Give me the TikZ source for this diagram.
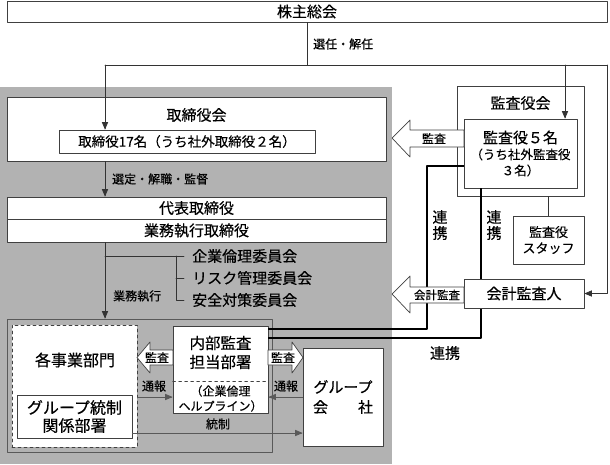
\documentclass[tikz,border=0pt]{standalone}
\usepackage{fontspec}
\setmainfont{Noto Sans CJK JP}[FakeBold=0.35]
\usetikzlibrary{arrows}

\begin{document}
\begin{tikzpicture}[line cap=round,line join=round,>=triangle 45,x=1pt,y=-1pt,
  box/.style={draw=black!75,fill=white,line width=0.8pt,inner sep=0pt,align=center},
  lbl/.style={inner sep=0pt,font=\fontsize{12}{13}\selectfont},
  big/.style={font=\fontsize{15}{17}\selectfont},
  link/.style={line width=1.8pt,line cap=butt},
  conn/.style={draw=black!80,line width=0.7pt},
  hollow/.style={draw=black!75,fill=white,line width=0.7pt}]
\useasboundingbox (0,0) rectangle (610,464);
\fill[black!30] (0,87) rectangle (392,464);

% shareholders
\node[box,big,minimum width=600pt,minimum height=21pt] (kabu) at (307,11.5) {株主総会};
\coordinate (jl) at (105,65);
\coordinate (jk) at (565,65);
\coordinate (jr) at (607,65);
\node[lbl,anchor=west] at (313,44) {選任・解任};

% board
\node[box,minimum width=379pt,minimum height=64pt] (torikai) at (196.5,129) {};
\node[big,inner sep=0pt] (torikaiT) at (196.5,115) {取締役会};
\node[box,font=\fontsize{13.5}{15}\selectfont,minimum width=256pt,minimum height=23pt] (tori17) at (187,141.5) {取締役17名（うち社外取締役２名）};
\node[box,big,minimum width=379pt,minimum height=22pt] (daihyo) at (196.5,208) {代表取締役};
\node[box,big,minimum width=379pt,minimum height=23pt] (gyomu) at (196.5,230.5) {業務執行取締役};
\node[lbl,anchor=west] at (112,179) {選定・解職・監督};

% committees
\node[big,inner sep=0pt,anchor=west] (iin1) at (192,256) {企業倫理委員会};
\node[big,inner sep=0pt,anchor=west] (iin2) at (192,278) {リスク管理委員会};
\node[big,inner sep=0pt,anchor=west] (iin3) at (192,300) {安全対策委員会};
\coordinate (br) at (176,256);
\node[lbl,anchor=west] at (113,296) {業務執行};

% auditors
\node[box,minimum width=127pt,minimum height=110pt] (kansakai) at (520.5,141) {};
\node[big,inner sep=0pt] (kansakaiT) at (520.5,103) {監査役会};
\node[box,minimum width=113pt,minimum height=69pt,font=\fontsize{12.5}{16}\selectfont] (kansa5) at (520.5,153.5) {{\fontsize{15}{16}\selectfont 監査役５名}\\（うち社外監査役\\３名）};
\node[box,minimum width=71pt,minimum height=48pt,font=\fontsize{13}{16}\selectfont] (staff) at (548.5,240) {監査役\\スタッフ};
\coordinate (k1) at (427,329);
\coordinate (k2) at (481,338);

% frame of business units
\node[draw=black!65,line width=0.8pt,minimum width=265pt,minimum height=133pt,inner sep=0pt] (frame) at (139.5,385.5) {};
\node[box,dashed,minimum width=125pt,minimum height=122pt] (jigyo) at (74.5,386) {};
\node[inner sep=0pt,font=\fontsize{16}{18}\selectfont] (jigyoT) at (75,360) {各事業部門};
\node[box,minimum width=115pt,minimum height=43pt,font=\fontsize{16}{18}\selectfont] (gkan) at (74.5,416.5) {グループ統制\\関係部署};
\node[box,minimum width=95pt,minimum height=87pt] (naibu) at (220.5,369.5) {};
\node[inner sep=0pt,align=center,font=\fontsize{15.5}{19}\selectfont] (naibuT) at (220.5,352.5) {内部監査\\担当部署};
\node[inner sep=0pt,align=center,font=\fontsize{12}{15}\selectfont] (help) at (220.5,398.5) {（企業倫理\\ヘルプライン）};
\node[box,minimum width=80pt,minimum height=98pt,font=\fontsize{15}{20}\selectfont] (gaisha) at (343,397) {グループ\\会　　社};
\coordinate (tsu) at (155,397);
\coordinate (tos) at (218,433);

% links (under the accountant box)
\draw[link] ([yshift=-12.5pt]kansa5.west) -| (k1) -- (k1 -| naibu.east);
\draw[link] (kansa5.south -| k2) -- (k2) -- (k2 -| naibu.east);

\node[box,big,minimum width=120pt,minimum height=29pt] (kaikei) at (524,293.5) {会計監査人};

% connectors
\draw[conn] (kabu.south) -- (kabu.south |- jl);
\draw[conn] (jl) -- (jr);
\draw[conn,->] (jl) -- (jl |- tori17.north);
\draw[conn,->] (jk) -- (jk |- kansa5.north);
\draw[conn,->] (jr) |- (kaikei.east);
\draw[conn,->] (jl |- torikai.south) -- (jl |- daihyo.north);
\draw[conn,->] (jl |- gyomu.south) -- (jl |- frame.north);
\draw[conn] (jl |- br) -- ([xshift=-8pt]iin1.west);
\draw[conn] (br) -- (br |- iin3.west) -- ([xshift=-8pt]iin3.west);
\draw[conn] (br |- iin2.west) -- ([xshift=-8pt]iin2.west);
\draw[conn] (staff.north) -- (staff.north |- kansakai.south);
\draw[dashed,draw=black!75] (naibu.west |- 0,381) -- (naibu.east |- 0,381);
\draw[conn,draw=black!65,->] (jigyo.east |- tsu) -- (naibu.west |- tsu);
\draw[conn,draw=black!65,->] (gaisha.west |- tsu) -- (naibu.east |- tsu);
\draw[conn,draw=black!65,->] (gkan.east |- tos) -- (gaisha.west |- tos);
\node[lbl] at (154,386) {通報};
\node[lbl] at (286,386) {通報};
\node[lbl] at (218,424) {統制};

% hollow arrows
\draw[hollow] (392,138) -- (410,120) -- (410,130) -- (464,130) -- (464,147) -- (410,147) -- (410,157) -- cycle;
\node[lbl] at (434,138.5) {監査};
\draw[hollow] (392,294) -- (410,276) -- (410,287) -- (464,287) -- (464,303) -- (410,303) -- (410,313) -- cycle;
\node[lbl,font=\fontsize{11.5}{13}\selectfont] at (437,295) {会計監査};
\draw[hollow] (137,357.5) -- (150,342) -- (150,350) -- (173,350) -- (173,365) -- (150,365) -- (150,373) -- cycle;
\node[lbl] at (157,357.5) {監査};
\draw[hollow] (303,357.5) -- (292,342) -- (292,350) -- (268,350) -- (268,365) -- (292,365) -- (292,373) -- cycle;
\node[lbl] at (283,357.5) {監査};

% cooperation labels
\node[big,inner sep=0pt,align=center,font=\fontsize{15}{16}\selectfont] at (440,225) {連\\携};
\node[big,inner sep=0pt,align=center,font=\fontsize{15}{16}\selectfont] at (494,225) {連\\携};
\node[big,inner sep=0pt] at (445,353) {連携};
\end{tikzpicture}
\end{document}
